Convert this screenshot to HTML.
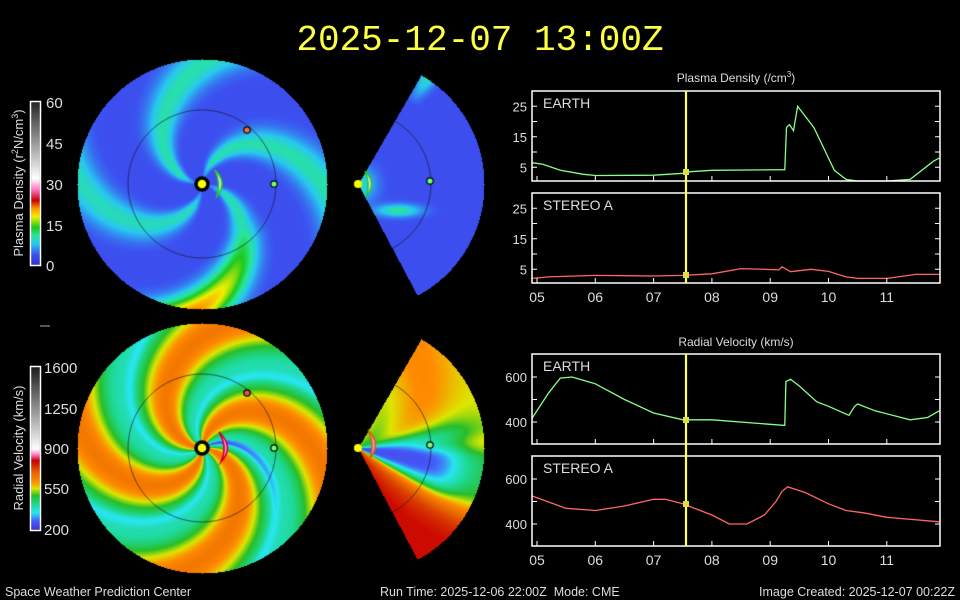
<!DOCTYPE html>
<html><head><meta charset="utf-8"><style>
html,body{margin:0;padding:0;background:#000;width:960px;height:600px;overflow:hidden}
#c{position:absolute;left:0;top:0}
svg{position:absolute;left:0;top:0}
text{font-family:"Liberation Sans",sans-serif;fill:#ddd}
</style></head><body>
<canvas id="c" width="960" height="600"></canvas>
<svg width="960" height="600" viewBox="0 0 960 600" id="s">
<text x="480" y="50" text-anchor="middle" style="font-family:'Liberation Mono',monospace;font-size:36px;fill:#ffff44">2025-12-07 13:00Z</text>
<g font-size="15">
<text x="46" y="108">60</text><text x="46" y="149">45</text><text x="46" y="190">30</text><text x="46" y="231">15</text><text x="46" y="271">0</text>
<text transform="translate(23,183) rotate(-90)" text-anchor="middle" font-size="13">Plasma Density (r<tspan font-size="9" dy="-5">2</tspan><tspan dy="5">N/cm</tspan><tspan font-size="9" dy="-5">3</tspan><tspan dy="5">)</tspan></text>
<text x="44" y="373">1600</text><text x="44" y="414">1250</text><text x="44" y="454">900</text><text x="44" y="494">550</text><text x="44" y="535">200</text>
<text transform="translate(23,448) rotate(-90)" text-anchor="middle" font-size="13">Radial Velocity (km/s)</text>
</g>
<line x1="40" y1="326" x2="50" y2="326" stroke="#aaa" stroke-width="1"/>
<rect x="30.5" y="101.5" width="10" height="164" fill="none" stroke="#fff" stroke-width="1.5"/>
<rect x="30.5" y="366.5" width="10" height="164" fill="none" stroke="#fff" stroke-width="1.5"/>
<text x="736" y="82" text-anchor="middle" font-size="12">Plasma Density (/cm<tspan font-size="8" dy="-5">3</tspan><tspan dy="5">)</tspan></text>
<text x="736" y="346" text-anchor="middle" font-size="12">Radial Velocity (km/s)</text>
<g id="plots"></g>
<g font-size="12.5">
<text x="5" y="596">Space Weather Prediction Center</text>
<text x="380" y="596" xml:space="preserve">Run Time: 2025-12-06 22:00Z  Mode: CME</text>
<text x="955" y="596" text-anchor="end">Image Created: 2025-12-07 00:22Z</text>
</g>
</svg>
<script>
var cv=document.getElementById('c'),ctx=cv.getContext('2d');
function cmap(stops,v){if(v<=stops[0][0])return stops[0][1];for(var i=1;i<stops.length;i++){if(v<=stops[i][0]){var a=stops[i-1],b=stops[i],t=(v-a[0])/(b[0]-a[0]);return[a[1][0]+(b[1][0]-a[1][0])*t,a[1][1]+(b[1][1]-a[1][1])*t,a[1][2]+(b[1][2]-a[1][2])*t];}}return stops[stops.length-1][1];}
var DC=[[0,[50,50,200]],[4,[60,80,240]],[8,[40,200,240]],[11,[40,230,150]],[14,[30,200,30]],[18,[240,240,0]],[21,[255,150,0]],[24,[200,0,0]],[28,[255,120,200]],[32,[255,255,255]],[60,[40,40,40]]];
var VC=[[200,[60,50,210]],[280,[70,90,250]],[350,[40,230,240]],[430,[30,215,140]],[500,[40,190,40]],[560,[220,230,0]],[620,[255,140,0]],[700,[230,100,0]],[800,[200,0,0]],[850,[255,120,200]],[900,[255,255,255]],[1600,[30,30,30]]];
var img=ctx.createImageData(960,600),D=img.data;
function put(x,y,c){var i=(y*960+x)*4;D[i]=c[0];D[i+1]=c[1];D[i+2]=c[2];D[i+3]=255;}
var P2=Math.PI/2,phi0=-127.75*Math.PI/180;
function spiral(dx,dy,k){var r=Math.sqrt(dx*dx+dy*dy),th=Math.atan2(dy,dx);var q=(th-k*r-phi0)/P2;var n=Math.floor(q);var s=q-n;n=((n%4)+4)%4;return [r,s,n];}
for(var y=58;y<312;y++)for(var x=76;x<330;x++){var dx=x-202,dy=y-184;var sp=spiral(dx,dy,0.012);var r=sp[0];if(r>125)continue;var s=sp[1],n=sp[2];
var A=[6.5,7,6,6.5][n];if(n==1)A=6.5+11*Math.max(0,(r-60)/65);var w=0.18*(0.6+0.4*Math.min(1,r/80));
var d=3.8+A*Math.exp(-Math.pow((s-0.5)/w,2))*Math.min(1,r/25);put(x,y,cmap(DC,d));}
for(var y=322;y<575;y++)for(var x=76;x<330;x++){var dx=x-202,dy=y-448;var sp=spiral(dx,dy,0.013);var r=sp[0];if(r>125)continue;var s=sp[1],n=sp[2];
var c=Math.cos(2*Math.PI*(s-0.5));var u=0.5+0.5*c;
var v=400+260*Math.pow(u,1.1);
var cy=Math.exp(-Math.pow((s-0.08)/0.05,2));v-=60*cy;
if(n==1&&r<100&&s<0.4)v-=120*(1-r/100)*(1-s/0.4);put(x,y,cmap(VC,v));}
function wedge(cy,fn){for(var y=cy-127;y<cy+128;y++)for(var x=358;x<486;x++){var dx=x-358,dy=y-cy;var r=Math.sqrt(dx*dx+dy*dy);if(r>126||r<2)continue;var a=Math.atan2(dy,dx)*180/Math.PI;if(a<-60||a>62)continue;put(x,y,fn(x,y,r,a));}}
wedge(184,function(x,y,r,a){var d=3.8+6*Math.exp(-Math.pow((a+57)/4,2))*Math.max(0,(r-95)/30)+7*Math.exp(-((x-398)*(x-398)/500+(y-210)*(y-210)/40))+6*Math.exp(-r*r/300);return cmap(DC,d);});
function sig(z){return 1/(1+Math.exp(-z));}
wedge(448,function(x,y,r,a){var top=sig((-10-a)/5),bot=sig((a-28)/4),mid=1-top-bot;if(mid<0)mid=0;
var vt=600+30*Math.sin(r/20+a/15)-100*Math.exp(-r/30);var vm=250+220*sig((r-100)/10)+100*Math.exp(-Math.pow((a+3)/6,2))*sig((r-60)/8);var vb=Math.min(790,660+(a-28)*3+r*0.6);
var v=top*vt+mid*vm+bot*vb;return cmap(VC,v);});
for(var y=102;y<265;y++){var c=cmap(DC,(265-y)/163*60);for(var x=31;x<40;x++)put(x,y,c);}
for(var y=367;y<530;y++){var c=cmap(VC,200+(530-y)/163*1400);for(var x=31;x<40;x++)put(x,y,c);}
ctx.putImageData(img,0,0);
function circ(x,y,r,f,s,lw){ctx.beginPath();ctx.arc(x,y,r,0,7);if(f){ctx.fillStyle=f;ctx.fill();}if(s){ctx.strokeStyle=s;ctx.lineWidth=lw;ctx.stroke();}}
[[202,184],[202,448]].forEach(function(p){circ(p[0],p[1],74,null,'rgba(20,20,40,0.8)',0.8);});
[184,448].forEach(function(cy){ctx.save();ctx.beginPath();ctx.moveTo(358,cy);ctx.arc(358,cy,126,-60*Math.PI/180,62*Math.PI/180);ctx.closePath();ctx.clip();circ(358,cy,73,null,'rgba(20,20,40,0.8)',0.8);ctx.restore();});
function cme(cx,cy,h,w,fill,edge){ctx.beginPath();ctx.moveTo(cx-3,cy-h);ctx.quadraticCurveTo(cx+w+4,cy,cx-1,cy+h);ctx.quadraticCurveTo(cx+w-3,cy,cx-3,cy-h);ctx.fillStyle=fill;ctx.fill();ctx.strokeStyle=edge;ctx.lineWidth=1.5;ctx.stroke();}
cme(218,183,13,6,'#ddd','#2c2');cme(222,447,15,9,'#ff8ad8','#c03');cme(368,183,12,5,'#ddd','#2c2');cme(371,444,14,7,'#ff8ad8','#c60');
circ(202,184,6,'#ff0','#000',3.5);circ(202,448,6,'#ff0','#000',3.5);circ(358,184,4,'#ff0',null);circ(358,448,4,'#ff0',null);
circ(247,130,3.2,'#f07040','#000',1.2);circ(274,184,3.2,'#7f7','#000',1.2);circ(247,393,3.2,'#e05060','#000',1.2);circ(274,448,3.2,'#7f7','#000',1.2);
circ(430,181,3.2,'#7f7','#000',1.2);circ(430,445,3.2,'#7f7','#000',1.2);
var NS='http://www.w3.org/2000/svg',G=document.getElementById('plots');
function el(t,a,txt){var e=document.createElementNS(NS,t);for(var k in a)e.setAttribute(k,a[k]);if(txt)e.textContent=txt;G.appendChild(e);return e;}
function X(d){return 537+(d-5)*58.3;}
function panel(top,lbl,y0,ys,ticks,labs,data,col,xl){var bot=top+90;
data=data.map(function(p){return[X(p[0]).toFixed(1),(y0-(p[1])*ys).toFixed(1)];});
el('polyline',{points:data.join(' '),fill:'none',stroke:col,'stroke-width':1.3});
el('rect',{x:532,y:top,width:408,height:90,fill:'none',stroke:'#fff','stroke-width':1.5});
for(var d=5;d<=11;d++)el('line',{x1:X(d),x2:X(d),y1:bot,y2:bot-5,stroke:'#fff'});
ticks.forEach(function(t){var y=y0-t*ys;el('line',{x1:532,x2:537,y1:y,y2:y,stroke:'#fff'});el('line',{x1:935,x2:940,y1:y,y2:y,stroke:'#fff'});});
labs.forEach(function(t){el('text',{x:527,y:y0-t*ys+5,'text-anchor':'end','font-size':13},String(t));});
el('text',{x:543,y:top+17,'font-size':14},lbl);
if(xl)for(var d=5;d<=11;d++)el('text',{x:X(d),y:bot+19,'text-anchor':'middle','font-size':14},(d<10?'0':'')+d);}
var ed=[[4.91,6.5],[5.1,6],[5.4,4],[5.8,2.7],[6,2.3],[7,2.4],[7.5,3],[7.6,3.5],[8,4],[9.25,4.2],[9.28,18],[9.33,19],[9.4,17],[9.47,25],[9.55,23],[9.75,18],[9.9,12],[10.1,4],[10.3,1],[10.5,0.5],[11,0.5],[11.4,1],[11.6,4],[11.8,7],[11.9,8]];
var sd=[[4.91,2],[5.2,2.5],[6,3],[7,2.8],[7.5,3],[8,3.5],[8.5,5.2],[8.9,5],[9.15,4.8],[9.2,5.8],[9.35,4.2],[9.7,5],[10,4.3],[10.3,2.5],[10.5,2],[11,2],[11.5,3.3],[11.9,3.3]];
var ev=[[4.91,415],[5.2,530],[5.4,595],[5.6,600],[6,570],[6.5,500],[7,440],[7.5,410],[8,410],[9,390],[9.25,385],[9.27,580],[9.35,590],[9.5,560],[9.8,490],[10,470],[10.35,430],[10.45,470],[10.5,480],[10.8,450],[11.4,410],[11.7,420],[11.9,450]];
var sv=[[4.91,525],[5.5,470],[6,460],[6.5,480],[7,510],[7.2,510],[7.5,490],[8,440],[8.3,400],[8.6,400],[8.9,440],[9.1,500],[9.2,545],[9.3,565],[9.6,540],[10,490],[10.3,460],[10.6,450],[11,430],[11.9,410]];
panel(91,'EARTH',182.5,3.05,[5,10,15,20,25],[5,15,25],ed,'#8f8',false);
panel(193,'STEREO A',284.5,3.05,[5,10,15,20,25],[5,15,25],sd,'#f66',true);
function vpanel(top,lbl,y600,data,col,xl){panel(top,lbl,y600+600*0.225,0.225,[400,500,600],[400,600],data,col,xl);}
vpanel(354,'EARTH',377,ev,'#8f8',false);
vpanel(456,'STEREO A',479,sv,'#f66',true);
el('line',{x1:686,x2:686,y1:91,y2:283,stroke:'#ffff55','stroke-width':2.2});
el('line',{x1:686,x2:686,y1:354,y2:546,stroke:'#ffff55','stroke-width':2.2});
[[686,172],[686,275],[686,420],[686,504]].forEach(function(p){el('rect',{x:p[0]-3,y:p[1]-3,width:6,height:6,fill:'#dd4'});});
</script>
</body></html>
